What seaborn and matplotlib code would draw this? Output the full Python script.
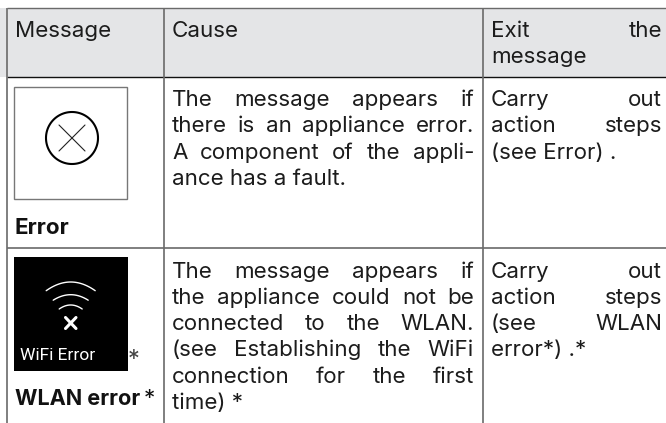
import matplotlib
matplotlib.use("Agg")
import matplotlib.pyplot as plt
import numpy as np
import seaborn as sns

# column rules and rows, pixels of the page
col_x = [7, 164, 482.5]
row_y = [8, 77, 248]
page_w, page_h = 666, 423

header_labels = ["Message", "Cause"]
exit_header = ["Exit the", "message"]
cause_1 = ["The message appears if", "there is an appliance error.", "A component of the appli-", "ance has a fault."]
exit_1 = ["Carry out", "action steps", "(see Error) ."]
cause_2 = ["The message appears if", "the appliance could not be", "connected to the WLAN.",
           "(see Establishing the WiFi", "connection for the first", "time) *"]
exit_2 = ["Carry out", "action steps", "(see WLAN", "error*) .*"]

sns.set_theme(style="white")
plt.rcParams["font.family"] = ["Inter", "DejaVu Sans"]

FS = 16.1
INK = "#1c1c1c"
RULE = "#6a6a6a"

fig, ax = plt.subplots(figsize=(6.66, 4.23), dpi=100)
fig.subplots_adjust(0, 0, 1, 1)
ax.set_xlim(0, page_w)
ax.set_ylim(page_h, 0)
ax.axis("off")


def put_block(lines, x0, x1, y0, step=26.3):
    # last line is not stretched, others are justified between x0 and x1
    rend = fig.canvas.get_renderer()
    for i, line in enumerate(lines):
        y = y0 + i * step
        words = line.split()
        if i == len(lines) - 1 and lines is not exit_header or len(words) == 1:
            ax.text(x0, y, line, fontsize=FS, color=INK, va="baseline")
            continue
        items = [ax.text(x0, y, w, fontsize=FS, color=INK, va="baseline") for w in words]
        widths = [t.get_window_extent(rend).width for t in items]
        gap = (x1 - x0 - sum(widths)) / (len(words) - 1)
        x = x0
        for t, w in zip(items, widths):
            t.set_x(x)
            x += w + gap


# header band and rules
ax.axhspan(row_y[0], row_y[1], color="#e4e5e7", lw=0)
ax.hlines(row_y[0], col_x[0], page_w, color=RULE, lw=1)
ax.hlines(row_y[1], col_x[0], page_w, color="#111111", lw=1)
ax.hlines(row_y[2], col_x[0], page_w, color=RULE, lw=1.2)
ax.vlines(col_x, row_y[0], page_h, color=RULE, lw=1.2)

ax.text(15, 37, header_labels[0], fontsize=FS, color=INK)
ax.text(172, 37, header_labels[1], fontsize=FS, color=INK)
put_block(exit_header, 491, 662, 37)

put_block(cause_1, 172, 474, 106)
put_block(exit_1, 491, 662, 106)
put_block(cause_2, 172, 474, 277.5)
put_block(exit_2, 491, 662, 277.5)

# error icon
ax.add_patch(plt.Rectangle((14, 87), 113, 112.5, fc="white", ec="#777777", lw=1))
t = np.linspace(0, 2 * np.pi, 120)
sns.lineplot(x=72 + 26 * np.cos(t), y=138 + 26 * np.sin(t), sort=False, estimator=None,
             color="black", lw=1.5, ax=ax)
ax.plot([59, 85], [125, 151], color="#222222", lw=0.8)
ax.plot([59, 85], [151, 125], color="#222222", lw=0.8)
ax.text(15, 233.5, "Error", fontsize=FS, color="#111111", fontweight="bold")

# wifi error icon
ax.add_patch(plt.Rectangle((14, 257), 114, 114, fc="black", ec="none"))
for half, top, drop in [(24.5, 282, 8.7), (17.5, 294.7, 5.5), (11.5, 305, 4)]:
    xs = np.linspace(-half, half, 40)
    ys = top + drop * (xs / half) ** 2
    sns.lineplot(x=70.7 + xs, y=ys, sort=False, estimator=None, color="white", lw=1, ax=ax)
ax.plot([65.5, 76], [317.5, 328.5], color="white", lw=2.2)
ax.plot([65.5, 76], [328.5, 317.5], color="white", lw=2.2)
ax.text(20, 360, "WiFi Error", fontsize=12.5, color="white", family=["Roboto"], stretch="condensed")
ax.text(128, 366, "*", fontsize=17, color="#444444")
ax.text(15, 405, "WLAN error", fontsize=15.6, color="#111111", fontweight="bold")
ax.text(143.5, 405, "*", fontsize=FS, color="#111111")

fig.savefig("out.png", dpi=100)
